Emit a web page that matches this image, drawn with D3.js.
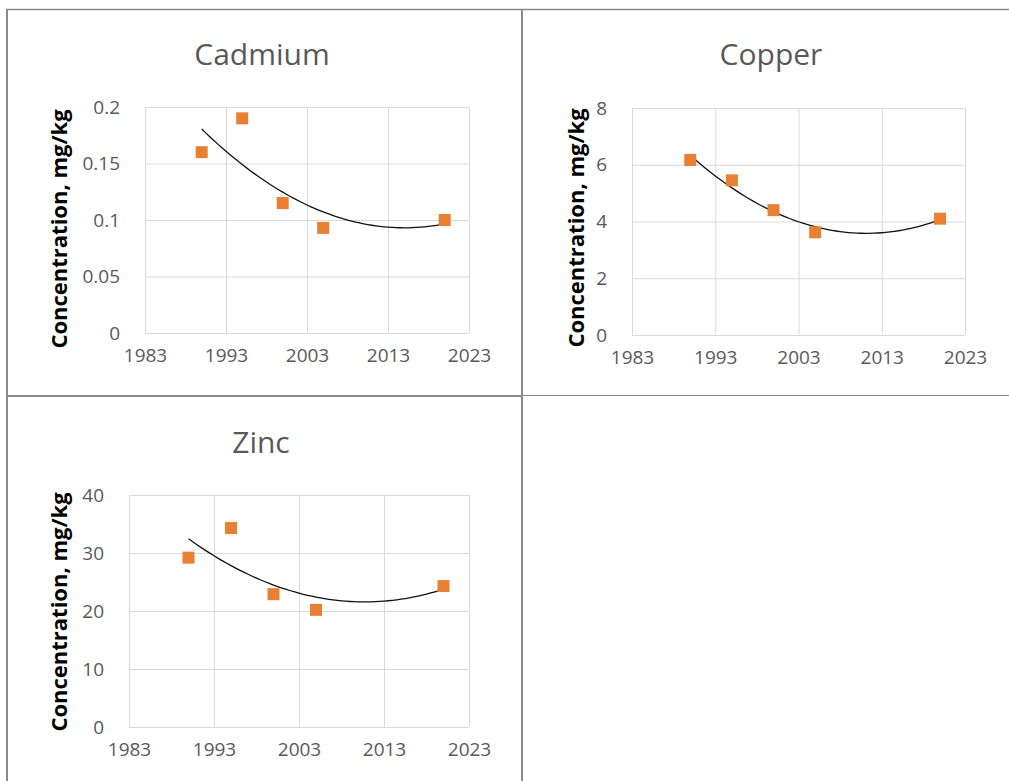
<!DOCTYPE html>
<html>
<head>
<meta charset="utf-8">
<script src="https://cdn.jsdelivr.net/npm/d3@7"></script>
<style>
  html, body { margin: 0; padding: 0; background: #fff; }
  svg { display: block; }
</style>
</head>
<body>
<svg id="chart" width="1009" height="781"></svg>
<script>
// ---- data ----
const years = [1990, 1995, 2000, 2005, 2020];
const cadmium = [0.16, 0.19, 0.115, 0.093, 0.1];
const copper = [6.17, 5.45, 4.4, 3.62, 4.1];
const zinc = [29.2, 34.3, 22.9, 20.2, 24.3];
const xTicks = [1983, 1993, 2003, 2013, 2023];
const cadmiumTicks = [0, 0.05, 0.1, 0.15, 0.2];
const copperTicks = [0, 2, 4, 6, 8];
const zincTicks = [0, 10, 20, 30, 40];
const titles = ["Cadmium", "Copper", "Zinc"];
const yAxisTitle = "Concentration, mg/kg";

// ---- layout ----
const panels = [
  { title: titles[0], values: cadmium, ticks: cadmiumTicks, l: 145, r: 469, t: 107, b: 333, tx: 262, ty: 65, ax: 59, ay: 229 },
  { title: titles[1], values: copper,  ticks: copperTicks,  l: 632, r: 965, t: 108, b: 335, tx: 771, ty: 65, ax: 576, ay: 228 },
  { title: titles[2], values: zinc,    ticks: zincTicks,    l: 129, r: 469, t: 495, b: 727, tx: 261, ty: 453, ax: 59, ay: 612 }
];

const svg = d3.select("#chart");
const FONT = "'Open Sans', 'DejaVu Sans', sans-serif";

// quadratic least squares fit (Excel polynomial trendline, order 2)
function quadFit(xs, ys) {
  const n = xs.length;
  const mx = d3.mean(xs);
  const t = xs.map(x => x - mx);
  const S = k => d3.sum(t, v => Math.pow(v, k));
  const Sy = k => d3.sum(t, (v, i) => Math.pow(v, k) * ys[i]);
  const A = [[n, S(1), S(2)], [S(1), S(2), S(3)], [S(2), S(3), S(4)]];
  const B = [Sy(0), Sy(1), Sy(2)];
  for (let i = 0; i < 3; i++) {
    for (let j = i + 1; j < 3; j++) {
      const f = A[j][i] / A[i][i];
      for (let k = i; k < 3; k++) A[j][k] -= f * A[i][k];
      B[j] -= f * B[i];
    }
  }
  const c = [0, 0, 0];
  for (let i = 2; i >= 0; i--) {
    let s = B[i];
    for (let k = i + 1; k < 3; k++) s -= A[i][k] * c[k];
    c[i] = s / A[i][i];
  }
  return x => c[0] + c[1] * (x - mx) + c[2] * (x - mx) * (x - mx);
}

// ---- cell borders ----
const border = svg.append("g").attr("stroke", "#8a8a8a").attr("fill", "none");
border.append("line").attr("x1", 7).attr("y1", 9).attr("x2", 7).attr("y2", 781).attr("stroke-width", 2);
border.append("line").attr("x1", 6).attr("y1", 9.5).attr("x2", 1009).attr("y2", 9.5).attr("stroke-width", 1.5);
border.append("line").attr("x1", 522).attr("y1", 9).attr("x2", 522).attr("y2", 781).attr("stroke-width", 2);
border.append("line").attr("x1", 6).attr("y1", 396).attr("x2", 522).attr("y2", 396).attr("stroke-width", 2);
border.append("line").attr("x1", 522).attr("y1", 395.5).attr("x2", 1009).attr("y2", 395.5).attr("stroke-width", 1.2);

panels.forEach(p => {
  const g = svg.append("g");
  const x = d3.scaleLinear().domain([xTicks[0], xTicks[xTicks.length - 1]]).range([p.l, p.r]);
  const y = d3.scaleLinear().domain([p.ticks[0], p.ticks[p.ticks.length - 1]]).range([p.b, p.t]);

  // x axis with vertical gridlines
  const xa = g.append("g")
    .attr("transform", `translate(0,${p.b})`)
    .call(d3.axisBottom(x).tickValues(xTicks).tickFormat(d3.format("d"))
      .tickSize(-(p.b - p.t)).tickPadding(16));
  xa.select(".domain").remove();
  xa.selectAll(".tick line").attr("stroke", "#d9d9d9").attr("stroke-width", 1);
  xa.selectAll(".tick text").attr("fill", "#595959").attr("font-size", 19).attr("font-family", FONT);

  // y axis with horizontal gridlines
  const ya = g.append("g")
    .attr("transform", `translate(${p.l},0)`)
    .call(d3.axisLeft(y).tickValues(p.ticks).tickFormat(d => String(d))
      .tickSize(-(p.r - p.l)).tickPadding(25));
  ya.select(".domain").remove();
  ya.selectAll(".tick line").attr("stroke", "#d9d9d9").attr("stroke-width", 1);
  ya.selectAll(".tick text").attr("fill", "#595959").attr("font-size", 19).attr("font-family", FONT);

  // title
  g.append("text")
    .attr("x", p.tx).attr("y", p.ty)
    .attr("text-anchor", "middle")
    .attr("font-family", FONT).attr("font-size", 30)
    .attr("fill", "#595959")
    .text(p.title);

  // y axis title
  g.append("text")
    .attr("transform", `translate(${p.ax},${p.ay}) rotate(-90)`)
    .attr("text-anchor", "middle")
    .attr("dy", "0.35em")
    .attr("font-family", FONT).attr("font-size", 22).attr("font-weight", "bold")
    .attr("fill", "#000")
    .text(yAxisTitle);

  // trendline
  const f = quadFit(years, p.values);
  const xs = d3.range(years[0], years[years.length - 1] + 0.001, 0.5);
  g.append("path")
    .datum(xs)
    .attr("fill", "none").attr("stroke", "#111").attr("stroke-width", 1.3)
    .attr("d", d3.line().x(d => x(d)).y(d => y(f(d))));

  // markers
  const s = 12;
  g.selectAll("rect.pt").data(years.map((yr, i) => [yr, p.values[i]]))
    .join("rect").attr("class", "pt")
    .attr("x", d => x(d[0]) - s / 2).attr("y", d => y(d[1]) - s / 2)
    .attr("width", s).attr("height", s)
    .attr("fill", "#E97F32");
});
</script>
</body>
</html>
